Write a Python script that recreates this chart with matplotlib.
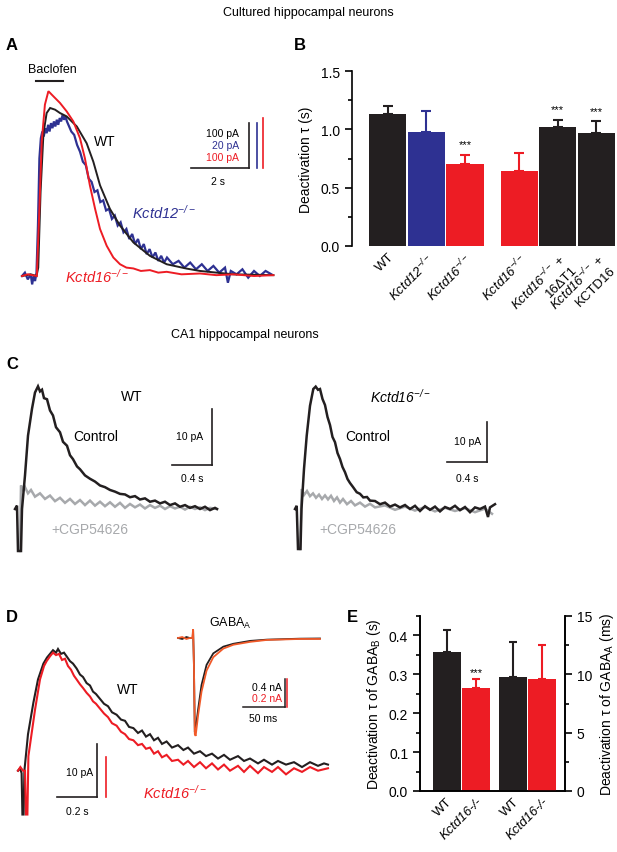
import matplotlib.pyplot as plt
import numpy as np

plt.rcParams['font.family'] = ['Liberation Sans', 'DejaVu Sans']
plt.rcParams['mathtext.fontset'] = 'custom'
# digits and signs inside math are set italic so that gene names read fully italic
plt.rcParams['mathtext.rm'] = 'Liberation Sans:italic'
plt.rcParams['mathtext.it'] = 'Liberation Sans:italic'
plt.rcParams['mathtext.sf'] = 'Liberation Sans'
plt.rcParams['mathtext.bf'] = 'Liberation Sans:bold'

BLK = '#231f20'
BLUE = '#2e3192'
RED = '#ed1c24'
GRAY = '#a7a9ac'
ORANGE = '#f15a29'

# ---- A: cultured neurons, normalised baclofen currents (time s, amplitude) ----
a_wt = [(0, 0), (0.3, 0.01), (0.5, 0), (0.56, 0.05), (0.64, 0.5), (0.74, 0.85), (0.85, 0.97),
        (0.97, 1.0), (1.14, 0.99), (1.31, 0.97), (1.54, 0.95), (1.89, 0.89), (2.23, 0.79),
        (2.46, 0.68), (2.69, 0.54), (3.03, 0.40), (3.38, 0.30), (3.84, 0.20), (4.41, 0.12),
        (4.99, 0.07), (5.68, 0.044), (6.14, 0.03), (7.29, 0.01), (8.67, 0.005)]
a_ko12 = [(0.0, 0.0), (0.1, 0.02), (0.2, -0.02), (0.3, 0.01), (0.35, -0.05), (0.4, 0.0),
          (0.45, -0.03), (0.5, 0.02), (0.55, 0.30), (0.6, 0.70), (0.65, 0.82), (0.7, 0.86),
          (0.75, 0.83), (0.8, 0.88), (0.85, 0.85), (0.9, 0.90), (0.95, 0.86), (1.0, 0.91),
          (1.05, 0.88), (1.1, 0.92), (1.15, 0.89), (1.2, 0.93), (1.25, 0.90), (1.3, 0.94),
          (1.35, 0.92), (1.4, 0.96), (1.45, 0.93), (1.5, 0.95), (1.55, 0.92), (1.6, 0.90),
          (1.7, 0.86), (1.8, 0.84), (1.9, 0.78), (2.0, 0.74), (2.1, 0.68), (2.2, 0.66),
          (2.3, 0.58), (2.4, 0.56), (2.5, 0.50), (2.6, 0.51), (2.7, 0.44), (2.8, 0.45),
          (2.9, 0.39), (3.0, 0.40), (3.1, 0.34), (3.2, 0.36), (3.3, 0.30), (3.4, 0.32),
          (3.5, 0.26), (3.6, 0.28), (3.7, 0.22), (3.8, 0.25), (3.9, 0.19), (4.0, 0.22),
          (4.1, 0.16), (4.2, 0.19), (4.3, 0.13), (4.4, 0.16), (4.5, 0.11), (4.6, 0.14),
          (4.7, 0.09), (4.8, 0.12), (4.9, 0.08), (5.0, 0.11), (5.2, 0.07), (5.4, 0.09),
          (5.6, 0.05), (5.8, 0.08), (6.0, 0.04), (6.2, 0.07), (6.4, 0.03), (6.6, 0.06),
          (6.8, 0.02), (7.0, 0.05), (7.1, -0.04), (7.2, 0.03), (7.4, 0.01), (7.6, 0.04),
          (7.8, -0.01), (8.0, 0.03), (8.2, 0.0), (8.4, 0.03), (8.6, 0.01)]
a_ko16 = [(0, 0), (0.2, 0.01), (0.51, 0), (0.6, 0.4), (0.68, 0.8), (0.79, 1.02), (0.91, 1.10),
          (1.08, 1.07), (1.31, 1.03), (1.54, 0.98), (1.77, 0.92), (2.0, 0.82), (2.17, 0.70),
          (2.34, 0.54), (2.52, 0.40), (2.69, 0.28), (2.92, 0.18), (3.15, 0.11), (3.38, 0.07),
          (3.6, 0.05), (3.84, 0.045), (4.1, 0.03), (4.41, 0.035), (4.7, 0.02), (4.99, 0.025),
          (5.5, 0.01), (6.14, 0.015), (6.7, 0.005), (7.29, 0.01), (8.0, 0.0), (8.67, 0.005)]
a_baclofen = (0.48, 1.41)

# ---- B: deactivation tau, cultured neurons ----
b_labels = ['WT', r'$Kctd12^{-/-}$', r'$Kctd16^{-/-}$', r'$Kctd16^{-/-}$',
            '$Kctd16^{-/-}$ +\n16\u0394T1', '$Kctd16^{-/-}$ +\nKCTD16']
b_mean = [1.13, 0.98, 0.70, 0.64, 1.02, 0.97]
b_err = [0.07, 0.18, 0.08, 0.16, 0.06, 0.10]
b_colors = [BLK, BLUE, RED, RED, BLK, BLK]
b_pos = [0, 1, 2, 3.4, 4.4, 5.4]
b_stars = [False, False, True, False, True, True]

# ---- C: CA1 traces (time s, pA) ----
c_wt_ctrl = [(0, 0), (0.02, 0.6), (0.03, -7.5), (0.06, -7.5), (0.07, 0), (0.10, 6.0), (0.13, 13.1),
             (0.17, 17.9), (0.20, 20.8), (0.23, 21.9), (0.25, 21.0), (0.27, 21.3), (0.29, 19.8),
             (0.32, 19.6), (0.35, 17.6), (0.38, 16.7), (0.41, 14.6), (0.45, 13.7), (0.48, 12.0),
             (0.52, 11.3), (0.55, 9.6), (0.58, 8.9), (0.62, 7.6), (0.65, 7.1), (0.70, 6.0),
             (0.75, 5.4), (0.80, 4.9), (0.85, 4.2), (0.90, 3.9), (0.95, 3.4), (1.00, 3.1),
             (1.05, 2.7), (1.10, 2.6), (1.15, 2.1), (1.20, 2.3), (1.25, 1.7), (1.30, 1.9),
             (1.35, 1.3), (1.40, 1.5), (1.45, 1.0), (1.50, 1.3), (1.55, 0.7), (1.60, 1.0),
             (1.65, 0.4), (1.70, 0.7), (1.75, 0.2), (1.80, 0.5), (1.85, 0.0), (1.90, 0.4),
             (1.95, -0.2), (2.00, 0.2), (2.02, 0.0)]
c_wt_cgp = [(0.05, -7.5), (0.06, 4.2), (0.08, 3.2), (0.10, 3.9), (0.13, 2.8), (0.16, 3.4),
            (0.20, 2.2), (0.25, 2.8), (0.30, 1.8), (0.35, 2.4), (0.40, 1.4), (0.45, 2.0),
            (0.50, 1.1), (0.55, 1.8), (0.60, 0.9), (0.65, 1.6), (0.70, 0.7), (0.75, 1.5),
            (0.80, 0.6), (0.85, 1.3), (0.90, 0.5), (0.95, 1.2), (1.00, 0.4), (1.05, 1.1),
            (1.10, 0.2), (1.15, 0.9), (1.20, 0.3), (1.25, 0.8), (1.30, 0.1), (1.35, 0.7),
            (1.40, 0.2), (1.45, 0.6), (1.50, 0.0), (1.55, 0.5), (1.60, 0.1), (1.65, 0.4),
            (1.70, -0.1), (1.75, 0.4), (1.80, 0.0), (1.85, 0.3), (1.90, -0.2), (1.95, 0.2),
            (2.02, 0.0)]
c_ko_ctrl = [(0, 0), (0.017, 0.8), (0.03, -10), (0.055, -10), (0.065, 0), (0.09, 10), (0.117, 18.3),
             (0.15, 25.8), (0.183, 30.0), (0.207, 30.6), (0.23, 29.8), (0.25, 30.0), (0.275, 27.5),
             (0.3, 26.0), (0.325, 23.0), (0.35, 21.0), (0.375, 18.0), (0.4, 16.7), (0.425, 14.0),
             (0.45, 12.5), (0.475, 10.5), (0.5, 9.2), (0.525, 7.5), (0.55, 6.5), (0.58, 5.5),
             (0.617, 4.2), (0.65, 3.8), (0.683, 2.9), (0.72, 3.0), (0.75, 2.1), (0.8, 2.0),
             (0.85, 1.2), (0.9, 1.6), (0.95, 0.6), (1.0, 1.1), (1.05, 0.4), (1.1, 1.0),
             (1.15, 0.0), (1.2, 0.8), (1.25, -0.5), (1.3, 0.7), (1.35, -0.2), (1.4, 0.6),
             (1.45, -0.6), (1.5, 0.5), (1.55, 0.0), (1.6, 0.8), (1.65, -0.3), (1.7, 0.5),
             (1.75, -0.8), (1.8, 0.4), (1.85, 0.0), (1.9, 0.6), (1.93, -2.0), (1.95, 0.4),
             (2.0, 1.2)]
c_ko_cgp = [(0.05, -10), (0.067, 5.0), (0.09, 3.5), (0.12, 4.5), (0.15, 3.2), (0.18, 3.9),
            (0.21, 2.8), (0.24, 3.6), (0.27, 2.5), (0.30, 3.4), (0.33, 2.4), (0.36, 3.3),
            (0.39, 2.0), (0.42, 2.9), (0.45, 1.6), (0.48, 2.5), (0.52, 1.2), (0.56, 2.0),
            (0.6, 0.9), (0.65, 1.6), (0.7, 0.6), (0.75, 1.3), (0.8, 0.4), (0.9, 0.9),
            (1.0, -0.2), (1.1, 0.6), (1.2, -0.4), (1.3, 0.5), (1.4, -0.6), (1.5, 0.3),
            (1.6, -0.5), (1.7, 0.2), (1.8, -0.8), (1.9, 0.1), (1.97, -1.2)]

# ---- D: GABAB IPSCs (time s, normalised) and GABAA inset (time ms, normalised) ----
d_wt = [(0, 0), (0.01, 0.02), (0.018, -0.02), (0.022, -0.36), (0.028, -0.36), (0.032, 0),
        (0.05, 0.3), (0.077, 0.56), (0.1, 0.75), (0.127, 0.88), (0.145, 0.93), (0.16, 0.96),
        (0.175, 0.99), (0.19, 0.97), (0.2, 1.0), (0.215, 0.96), (0.23, 0.97), (0.243, 0.94),
        (0.26, 0.90), (0.275, 0.88), (0.293, 0.84), (0.31, 0.79), (0.325, 0.77), (0.343, 0.72),
        (0.36, 0.70), (0.375, 0.65), (0.39, 0.63), (0.41, 0.59), (0.43, 0.55), (0.45, 0.53),
        (0.47, 0.48), (0.493, 0.46), (0.515, 0.42), (0.535, 0.41), (0.555, 0.36), (0.577, 0.35),
        (0.6, 0.31), (0.62, 0.33), (0.64, 0.28), (0.66, 0.30), (0.68, 0.25), (0.7, 0.27),
        (0.72, 0.22), (0.743, 0.24), (0.77, 0.19), (0.8, 0.21), (0.827, 0.17), (0.85, 0.19),
        (0.88, 0.14), (0.91, 0.16), (0.94, 0.12), (0.97, 0.14), (1.0, 0.10), (1.03, 0.13),
        (1.06, 0.09), (1.1, 0.12), (1.13, 0.08), (1.16, 0.10), (1.2, 0.06), (1.23, 0.09),
        (1.27, 0.05), (1.3, 0.08), (1.34, 0.05), (1.38, 0.07), (1.42, 0.03), (1.46, 0.07),
        (1.5, 0.04), (1.53, 0.06), (1.55, 0.05)]
d_ko = [(0, 0), (0.012, 0.03), (0.025, 0.0), (0.035, 0.0), (0.04, -0.36), (0.047, -0.36),
        (0.052, 0.12), (0.085, 0.5), (0.11, 0.75), (0.13, 0.86), (0.143, 0.9), (0.16, 0.94),
        (0.175, 0.97), (0.19, 0.95), (0.205, 0.96), (0.22, 0.91), (0.235, 0.92), (0.25, 0.86),
        (0.265, 0.83), (0.28, 0.78), (0.293, 0.75), (0.31, 0.71), (0.325, 0.68), (0.343, 0.64),
        (0.36, 0.61), (0.375, 0.57), (0.39, 0.55), (0.41, 0.51), (0.43, 0.47), (0.45, 0.44),
        (0.47, 0.39), (0.493, 0.37), (0.515, 0.32), (0.535, 0.30), (0.555, 0.26), (0.577, 0.25),
        (0.6, 0.21), (0.62, 0.22), (0.64, 0.18), (0.66, 0.19), (0.68, 0.14), (0.7, 0.16),
        (0.72, 0.11), (0.743, 0.13), (0.77, 0.08), (0.8, 0.09), (0.827, 0.05), (0.85, 0.08),
        (0.88, 0.03), (0.91, 0.07), (0.94, 0.02), (0.97, 0.06), (1.0, 0.01), (1.03, 0.05),
        (1.06, 0.0), (1.1, 0.04), (1.13, -0.01), (1.16, 0.04), (1.2, -0.02), (1.23, 0.03),
        (1.27, -0.01), (1.3, 0.03), (1.34, -0.03), (1.38, 0.02), (1.42, -0.01), (1.46, 0.03),
        (1.5, 0.0), (1.55, 0.02)]
d_inset_wt = [(0, 0.0), (5, -0.01), (10, 0.01), (14, 0.0), (17.5, 0.0), (18, 0.08), (19, -0.3),
              (20, -0.98), (21, -0.95), (24, -0.74), (28, -0.49), (34, -0.28), (42, -0.16),
              (54, -0.09), (66, -0.06), (86, -0.03), (106, -0.017), (126, -0.012), (145, -0.007),
              (169, -0.005)]
d_inset_ko = [(0, 0.0), (5, 0.01), (10, -0.01), (14, 0.0), (17, 0.0), (18, 0.09), (19, -0.3),
              (20, -1.0), (21, -1.02), (24, -0.80), (28, -0.56), (34, -0.34), (42, -0.20),
              (54, -0.11), (66, -0.07), (86, -0.04), (106, -0.02), (126, -0.015), (145, -0.01),
              (169, -0.01)]

# ---- E: deactivation tau in CA1 ----
e_labels = ['WT', 'Kctd16-/-', 'WT', 'Kctd16-/-']
e_gabab = [0.357, 0.265]
e_gabab_err = [0.057, 0.024]
e_gabaa = [9.8, 9.6]
e_gabaa_err = [3.0, 2.9]

W, H = 617, 853
fig = plt.figure(figsize=(W / 100, H / 100), dpi=100)


def px_box(l, t, r, b):
    return [l / W, 1 - b / H, (r - l) / W, (b - t) / H]


def trace_ax(l, t, r, b, x0, sx, y0, sy):
    # axes whose data units map onto pixels: x0/y0 origin, sx/sy pixels per unit
    ax = fig.add_axes(px_box(l, t, r, b))
    ax.set_xlim((l - x0) / sx, (r - x0) / sx)
    ax.set_ylim((y0 - b) / sy, (y0 - t) / sy)
    ax.axis('off')
    return ax


def ftext(x, y, s, **kw):
    kw.setdefault('ha', 'center')
    kw.setdefault('va', 'center')
    fig.text(x / W, 1 - y / H, s, **kw)


def plot_trace(ax, data, **kw):
    arr = np.array(data)
    ax.plot(arr[:, 0], arr[:, 1], solid_joinstyle='miter', **kw)


# titles and panel letters
ftext(308, 13, 'Cultured hippocampal neurons', fontsize=9)
ftext(245, 335, 'CA1 hippocampal neurons', fontsize=9)
for x, y, s in [(12, 46, 'A'), (300, 46, 'B'), (12, 365, 'C'), (12, 617, 'D'), (352, 617, 'E')]:
    ftext(x, y, s, fontsize=12, fontweight='bold')

# ---------------- A ----------------
ax_a = trace_ax(10, 60, 285, 295, 22, 29, 277, 168)
plot_trace(ax_a, a_ko12, color=BLUE, lw=1.6)
plot_trace(ax_a, a_wt, color=BLK, lw=1.4)
plot_trace(ax_a, a_ko16, color=RED, lw=1.4)
ax_a.plot(a_baclofen, [1.163, 1.163], color=BLK, lw=1.5)
ax_a.plot([7.83, 7.83], [0.64, 0.91], color=BLK, lw=1.2)
ax_a.plot([8.10, 8.10], [0.64, 0.91], color=BLUE, lw=1.2)
ax_a.plot([8.31, 8.31], [0.64, 0.94], color=RED, lw=1.2)
ax_a.plot([5.83, 7.83], [0.64, 0.64], color=BLK, lw=1.2)
ftext(52, 70, 'Baclofen', fontsize=9)
ftext(105, 142, 'WT', fontsize=10)
ftext(132, 213, r'$Kctd12^{-/-}$', fontsize=10.5, color=BLUE, ha='left')
ftext(65, 277, r'$Kctd16^{-/-}$', fontsize=10.5, color=RED, ha='left')
ftext(239, 134, '100 pA', fontsize=7.5, ha='right')
ftext(239, 146, '20 pA', fontsize=7.5, ha='right', color=BLUE)
ftext(239, 158, '100 pA', fontsize=7.5, ha='right', color=RED)
ftext(218, 182, '2 s', fontsize=7.5)

# ---------------- B ----------------
ax_b = fig.add_axes(px_box(352, 72, 615, 247))
ax_b.bar(b_pos, b_mean, width=0.96, color=b_colors)
for p, m, e, c, s in zip(b_pos, b_mean, b_err, b_colors, b_stars):
    ax_b.errorbar(p, m, yerr=[[0], [e]], color=c, elinewidth=1.5, capsize=3.5, capthick=1.5)
    if s:
        ax_b.text(p, m + e + 0.09, '***', ha='center', va='center', fontsize=8)
ax_b.set_xlim(-0.92, 5.88)
ax_b.set_ylim(0, 1.5)
ax_b.set_yticks([0, 0.5, 1.0, 1.5])
ax_b.set_yticks([0.25, 0.75, 1.25], minor=True)
ax_b.set_yticklabels(['0.0', '0.5', '1.0', '1.5'])
ax_b.set_xticks(b_pos)
ax_b.set_xticklabels(b_labels, rotation=45, ha='right', va='top', rotation_mode='anchor',
                     multialignment='right')
for sp in ['top', 'right', 'bottom']:
    ax_b.spines[sp].set_visible(False)
ax_b.spines['left'].set_linewidth(1.2)
ax_b.tick_params(axis='y', which='major', length=5, width=1.2, labelsize=10)
ax_b.tick_params(axis='y', which='minor', length=3, width=1.2)
ax_b.tick_params(axis='x', length=0, labelsize=9.5, pad=3)
ax_b.set_ylabel('Deactivation τ (s)', fontsize=10, labelpad=6)

# ---------------- C ----------------
ax_c1 = trace_ax(10, 375, 240, 560, 15, 100, 510, 5.6)
plot_trace(ax_c1, c_wt_cgp, color=GRAY, lw=1.8)
plot_trace(ax_c1, c_wt_ctrl, color=BLK, lw=1.8)
ax_c1.plot([1.97, 1.97], [7.86, 17.86], color=BLK, lw=1.2)
ax_c1.plot([1.57, 1.97], [7.86, 7.86], color=BLK, lw=1.2)
ftext(132, 397, 'WT', fontsize=10)
ftext(96, 437, 'Control', fontsize=10)
ftext(203, 437, '10 pA', fontsize=7.5, ha='right')
ftext(192, 479, '0.4 s', fontsize=7.5)
ftext(90, 530, '+CGP54626', fontsize=10, color=GRAY)

ax_c2 = trace_ax(290, 375, 520, 560, 295, 100, 510, 4.0)
plot_trace(ax_c2, c_ko_cgp, color=GRAY, lw=1.8)
plot_trace(ax_c2, c_ko_ctrl, color=BLK, lw=1.8)
ax_c2.plot([1.917, 1.917], [11.7, 21.7], color=BLK, lw=1.2)
ax_c2.plot([1.517, 1.917], [11.7, 11.7], color=BLK, lw=1.2)
ftext(400, 397, r'$Kctd16^{-/-}$', fontsize=10)
ftext(368, 437, 'Control', fontsize=10)
ftext(481, 442, '10 pA', fontsize=7.5, ha='right')
ftext(467, 479, '0.4 s', fontsize=7.5)
ftext(358, 530, '+CGP54626', fontsize=10, color=GRAY)

# ---------------- D ----------------
ax_d = trace_ax(12, 630, 335, 820, 18, 200, 771.7, 121.7)
plot_trace(ax_d, d_wt, color=BLK, lw=1.5)
plot_trace(ax_d, d_ko, color=RED, lw=1.5)
ax_d.plot([0.393, 0.393], [-0.219, 0.219], color=BLK, lw=1.2)
ax_d.plot([0.44, 0.44], [-0.219, 0.11], color=RED, lw=1.2)
ax_d.plot([0.193, 0.393], [-0.219, -0.219], color=BLK, lw=1.2)
ftext(128, 690, 'WT', fontsize=10)
ftext(93, 773, '10 pA', fontsize=7.5, ha='right')
ftext(77, 812, '0.2 s', fontsize=7.5)
ftext(143, 793, r'$Kctd16^{-/-}$', fontsize=10.5, color=RED, ha='left')

ax_in = trace_ax(172, 625, 330, 745, 178, 0.84, 639, 96)
plot_trace(ax_in, d_inset_wt, color=BLK, lw=1.3)
plot_trace(ax_in, d_inset_ko, color=ORANGE, lw=1.3)
ax_in.plot([127.4, 127.4], [-0.722, -0.427], color=BLK, lw=1.1)
ax_in.plot([130.1, 130.1], [-0.722, -0.427], color=RED, lw=1.1)
ax_in.plot([77.7, 127.4], [-0.722, -0.722], color=BLK, lw=1.1)
ftext(230, 623, r'GABA$_\mathsf{A}$', fontsize=9)
ftext(282, 688, '0.4 nA', fontsize=7.5, ha='right')
ftext(282, 699, '0.2 nA', fontsize=7.5, ha='right', color=RED)
ftext(263, 719, '50 ms', fontsize=7.5)

# ---------------- E ----------------
ax_e = fig.add_axes(px_box(420, 617, 565, 792))
ax_e2 = ax_e.twinx()
e_pos = [0, 1, 2.25, 3.25]
ax_e.bar(e_pos[:2], e_gabab, width=0.95, color=[BLK, RED])
ax_e2.bar(e_pos[2:], e_gabaa, width=0.95, color=[BLK, RED])
for p, m, e, c in zip(e_pos[:2], e_gabab, e_gabab_err, [BLK, RED]):
    ax_e.errorbar(p, m, yerr=[[0], [e]], color=c, elinewidth=1.5, capsize=3, capthick=1.5)
for p, m, e, c in zip(e_pos[2:], e_gabaa, e_gabaa_err, [BLK, RED]):
    ax_e2.errorbar(p, m, yerr=[[0], [e]], color=c, elinewidth=1.5, capsize=3, capthick=1.5)
ax_e.text(e_pos[1], e_gabab[1] + e_gabab_err[1] + 0.018, '***', ha='center', va='center', fontsize=8)
ax_e.set_xlim(-0.9, 4.02)
ax_e.set_ylim(0, 0.45)
ax_e2.set_ylim(0, 15)
ax_e.set_yticks([0, 0.1, 0.2, 0.3, 0.4])
ax_e.set_yticklabels(['0.0', '0.1', '0.2', '0.3', '0.4'])
ax_e.set_yticks([0.05, 0.15, 0.25, 0.35, 0.45], minor=True)
ax_e2.set_yticks([0, 5, 10, 15])
ax_e2.set_yticks([2.5, 7.5, 12.5], minor=True)
ax_e.set_xticks(e_pos)
ax_e.set_xticklabels(e_labels, rotation=45, ha='right', va='top', rotation_mode='anchor')
for lab in ax_e.get_xticklabels()[1::2]:
    lab.set_fontstyle('italic')
for a in (ax_e, ax_e2):
    a.spines['top'].set_visible(False)
    for sp in ['left', 'right', 'bottom']:
        a.spines[sp].set_linewidth(1.2)
    a.tick_params(axis='y', which='major', length=5, width=1.2, labelsize=10)
    a.tick_params(axis='y', which='minor', length=3, width=1.2)
ax_e.tick_params(axis='x', length=0, labelsize=9.5, pad=3)
ax_e.set_ylabel(r'Deactivation τ of GABA$_\mathsf{B}$ (s)', fontsize=10, labelpad=4)
ax_e2.set_ylabel(r'Deactivation τ of GABA$_\mathsf{A}$ (ms)', fontsize=10, labelpad=4)

fig.savefig('out.png', dpi=100)
